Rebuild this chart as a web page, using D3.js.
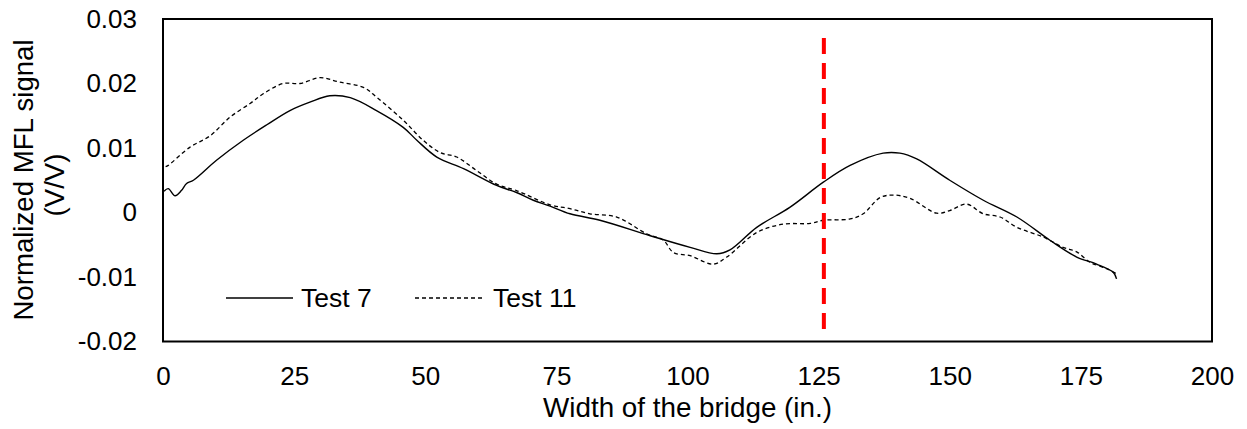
<!DOCTYPE html>
<html><head><meta charset="utf-8">
<script src="https://cdn.jsdelivr.net/npm/d3@7"></script>
<style>body{margin:0;background:#fff}svg{display:block}text{font-family:"Liberation Sans",Arial,sans-serif;fill:#000}</style>
</head><body><svg id="c" width="1247" height="429"></svg>
<script>
const xTicks=[0,25,50,75,100,125,150,175,200];
const yTicks=[-0.02,-0.01,0,0.01,0.02,0.03];
const yTickLabels=["-0.02","-0.01","0","0.01","0.02","0.03"];
const test7X=[0.2,1,2.3,3.5,4.5,5.8,10.2,15.3,19.8,24.2,28,31.8,35.7,40.7,45.8,48.4,52.2,57.3,63.6,67.4,70.6,73.8,77.6,83.3,92.9,100.5,105.6,108.1,113.2,119.5,125.9,131,137.3,140.5,143.7,150,156.4,162.8,169.1,174.2,178,181.2,181.8];
const test7Y=[0.0033,0.0037,0.0026,0.0034,0.0045,0.005,0.0081,0.0112,0.0136,0.0158,0.0171,0.0181,0.0178,0.0158,0.0132,0.0112,0.0086,0.0068,0.0042,0.0031,0.0019,0.001,-0.0002,-0.0012,-0.0036,-0.0054,-0.0064,-0.0058,-0.0023,0.0008,0.0047,0.0073,0.0092,0.0092,0.0083,0.005,0.0019,-0.0007,-0.0043,-0.0069,-0.008,-0.0093,-0.0103];
const test11X=[0.5,1,5.1,9,12.8,16.6,19.1,22.9,26.1,29.9,33.7,38.2,40.7,45.8,49.6,52.8,56,59.8,63.6,67.4,73.8,77.6,81.4,86.5,92.2,95.4,97.3,100.5,104.9,107.5,113.2,118.3,123.4,125.9,131,133.5,136.7,139.2,142.4,147.5,150,153.2,156.4,159.6,162.8,167.8,171.6,174.2,176.7,179.9,181.8];
const test11Y=[0.0071,0.0073,0.0101,0.0119,0.0148,0.0169,0.0184,0.02,0.02,0.0209,0.0202,0.0194,0.0179,0.0143,0.0112,0.0093,0.0086,0.0065,0.0044,0.0034,0.0012,0.0006,-0.0002,-0.0007,-0.0033,-0.0043,-0.0062,-0.0067,-0.008,-0.0069,-0.0031,-0.0018,-0.0017,-0.0012,-0.001,-0.0002,0.0023,0.0027,0.0022,-0.0001,0.0003,0.0013,-0.0002,-0.0007,-0.0023,-0.0038,-0.0054,-0.0061,-0.0077,-0.0087,-0.0095];
const markerX=126;
const seriesNames=["Test 7","Test 11"];

const svg=d3.select("#c");
const L=163,R=1212,T=19,B=341.5;
const x=d3.scaleLinear().domain([0,200]).range([L,R]);
const y=d3.scaleLinear().domain([-0.02,0.03]).range([B,T]);
const FF="Liberation Sans, Arial, sans-serif";

const gx=svg.append("g").attr("transform",`translate(0,${B})`).call(d3.axisBottom(x).tickValues(xTicks).tickSize(0).tickPadding(25).tickFormat(d3.format("d")));
gx.select(".domain").remove();
gx.selectAll("text").attr("font-size",26).attr("font-family",FF).attr("fill","#000");
const gy=svg.append("g").attr("transform",`translate(${L},0)`).call(d3.axisLeft(y).tickValues(yTicks).tickSize(0).tickPadding(26).tickFormat((d,i)=>yTickLabels[i]));
gy.select(".domain").remove();
gy.selectAll("text").attr("font-size",26).attr("font-family",FF).attr("fill","#000");

svg.append("rect").attr("x",L).attr("y",T).attr("width",R-L).attr("height",B-T).attr("fill","none").attr("stroke","#000").attr("stroke-width",2);

const line=d3.line().x(d=>x(d[0])).y(d=>y(d[1])).curve(d3.curveCatmullRom.alpha(0.5));
svg.append("path").datum(test11X.map((v,i)=>[v,test11Y[i]])).attr("d",line).attr("fill","none").attr("stroke","#000").attr("stroke-width",1.3).attr("stroke-dasharray","4,3");
svg.append("path").datum(test7X.map((v,i)=>[v,test7Y[i]])).attr("d",line).attr("fill","none").attr("stroke","#000").attr("stroke-width",1.4);

svg.append("line").attr("x1",x(markerX)).attr("x2",x(markerX)).attr("y1",38).attr("y2",336).attr("stroke","#ff0000").attr("stroke-width",4).attr("stroke-dasharray","16,9");

svg.append("line").attr("x1",226).attr("x2",293).attr("y1",298).attr("y2",298).attr("stroke","#000").attr("stroke-width",1.3);
svg.append("text").attr("x",301).attr("y",307).attr("font-size",26.5).text(seriesNames[0]);
svg.append("line").attr("x1",415).attr("x2",484).attr("y1",298).attr("y2",298).attr("stroke","#000").attr("stroke-width",1.3).attr("stroke-dasharray","4,3");
svg.append("text").attr("x",493).attr("y",307).attr("font-size",26.5).text(seriesNames[1]);

svg.append("text").attr("x",(L+R)/2).attr("y",417).attr("text-anchor","middle").attr("font-size",27.8).text("Width of the bridge (in.)");
svg.append("text").attr("transform","translate(33,180) rotate(-90)").attr("text-anchor","middle").attr("font-size",27.6).text("Normalized MFL signal");
svg.append("text").attr("transform","translate(64,185) rotate(-90)").attr("text-anchor","middle").attr("font-size",27.6).text("(V/V)");
</script></body></html>
